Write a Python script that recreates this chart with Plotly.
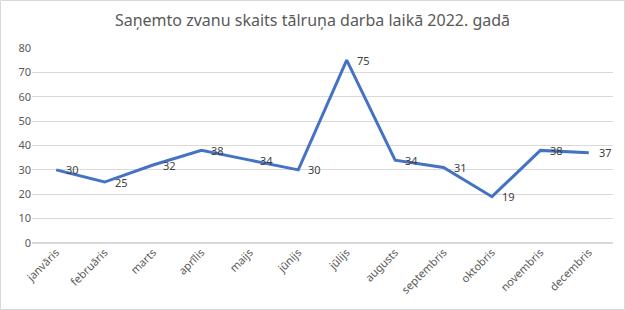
import plotly.graph_objects as go

months = ["janvāris", "februāris", "marts", "aprīlis", "maijs", "jūnijs",
          "jūlijs", "augusts", "septembris", "oktobris", "novembris", "decembris"]
calls = [30, 25, 32, 38, 34, 30, 75, 34, 31, 19, 38, 37]

W, H = 625, 310
L, R, T, B = 32, 12, 48, 67
pw, ph = W - L - R, H - T - B

fig = go.Figure()
fig.add_trace(go.Scatter(
    x=months, y=calls, mode="lines",
    line=dict(color="#4472C4", width=3),
    showlegend=False, hoverinfo="x+y",
))

for m, v in zip(months, calls):
    fig.add_annotation(x=m, y=v, text=str(v), showarrow=False,
                       xanchor="left", yanchor="middle", xshift=8, yshift=0,
                       font=dict(family="Noto Sans", size=11, color="#404040"))

fig.update_layout(
    width=W, height=H,
    margin=dict(l=L, r=R, t=T, b=B, autoexpand=False),
    paper_bgcolor="white", plot_bgcolor="white",
    title=dict(text="Saņemto zvanu skaits tālruņa darba laikā 2022. gadā",
               x=0.5, xanchor="center", y=1 - 20 / H, yanchor="middle",
               font=dict(family="Noto Sans", size=16, color="#595959")),
    xaxis=dict(tickangle=-45, showgrid=False, showline=False, ticks="",
               tickfont=dict(family="Noto Sans", size=11, color="#595959"),
               range=[-0.5, 11.5]),
    yaxis=dict(range=[0, 80], dtick=10, showgrid=True, gridcolor="#D9D9D9",
               zeroline=True, zerolinecolor="#D9D9D9", showline=False, ticks="",
               tickfont=dict(family="Noto Sans", size=11, color="#595959")),
    shapes=[dict(type="rect", xref="paper", yref="paper",
                 x0=-(L - 0.5) / pw, x1=(W - L - 0.5) / pw,
                 y0=-(B - 0.5) / ph, y1=(H - B - 0.5) / ph,
                 line=dict(color="#D9D9D9", width=1), layer="below")],
)

fig.write_html("out.html")
